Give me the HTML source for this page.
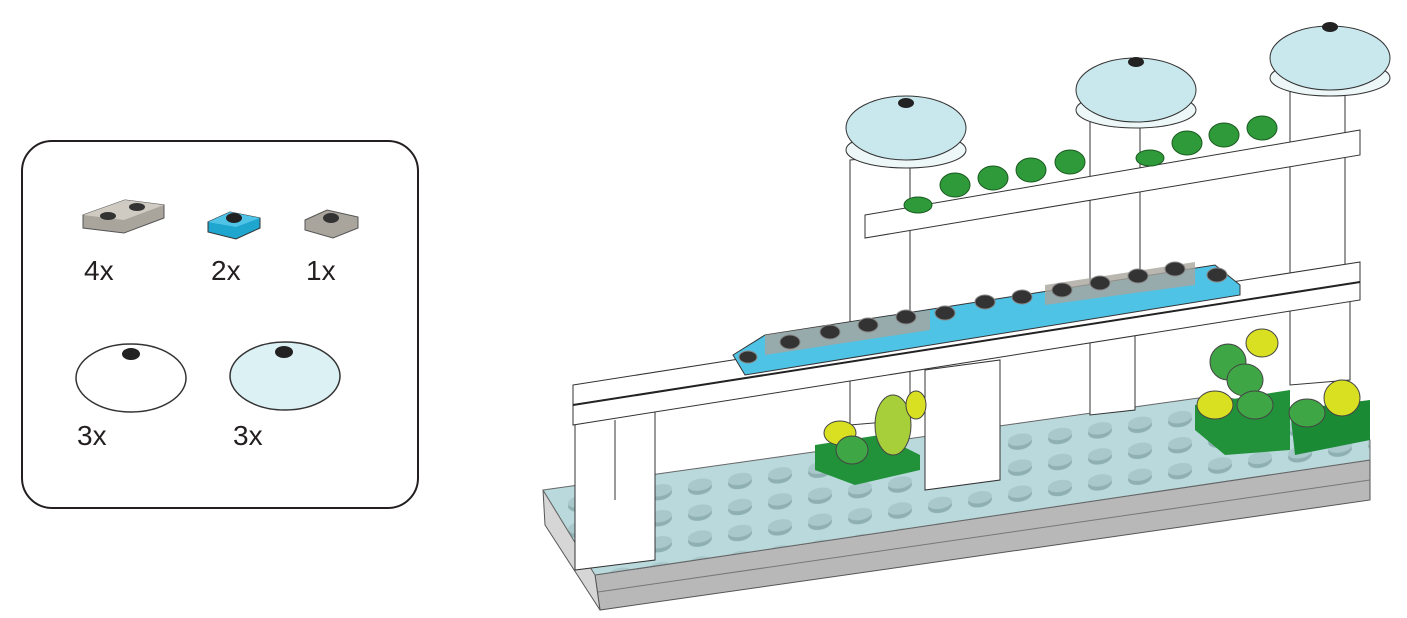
<!DOCTYPE html>
<html><head><meta charset="utf-8"><style>
html,body{margin:0;padding:0;background:#fff;}
body{width:1407px;height:618px;overflow:hidden;position:relative;font-family:"Liberation Sans",sans-serif;}
.t{position:absolute;font-size:28px;color:#231f20;}
</style></head><body>
<svg width="1407" height="618" style="position:absolute;left:0;top:0" xmlns="http://www.w3.org/2000/svg">
<defs>
<pattern id="studs" width="40" height="26" patternUnits="userSpaceOnUse" patternTransform="skewY(-8)">
<rect width="40" height="26" fill="#b9d9dc"/>
<ellipse cx="20" cy="14" rx="12" ry="7" fill="#8fb0b3"/>
<ellipse cx="20" cy="11" rx="12" ry="6" fill="#a9c8cb"/>
</pattern>
</defs>
<!-- parts box -->
<rect x="22" y="141" width="396" height="367" rx="30" fill="#fff" stroke="#231f20" stroke-width="2"/>
<!-- 1x2 grey -->
<polygon points="83,215 125,200 164,205 164,218 124,233 83,228" fill="#a9a59d" stroke="#555" stroke-width="1"/>
<polygon points="83,215 125,200 164,205 124,220" fill="#cfcbc3"/>
<ellipse cx="108" cy="216" rx="8" ry="4" fill="#333"/><ellipse cx="137" cy="207" rx="8" ry="4" fill="#333"/>
<!-- blue 1x1 -->
<polygon points="208,222 230,212 260,218 260,228 236,239 208,232" fill="#1ea6cf" stroke="#333" stroke-width="1"/>
<polygon points="208,222 230,212 260,218 236,227" fill="#4fc3e6"/>
<ellipse cx="234" cy="218" rx="8" ry="5" fill="#222"/>
<!-- grey 1x1 -->
<polygon points="305,220 327,210 358,217 358,228 333,238 305,230" fill="#a9a59d" stroke="#555" stroke-width="1"/>
<ellipse cx="331" cy="218" rx="8" ry="5" fill="#333"/>
<!-- domes -->
<ellipse cx="131" cy="378" rx="55" ry="34" fill="#fff" stroke="#333" stroke-width="1.5"/>
<ellipse cx="131" cy="354" rx="9" ry="6" fill="#222"/>
<ellipse cx="285" cy="376" rx="55" ry="34" fill="#dcf1f4" stroke="#333" stroke-width="1.5"/>
<ellipse cx="284" cy="352" rx="9" ry="6" fill="#222"/>

<!-- base grey side -->
<polygon points="595,575 1370,460 1370,500 600,610" fill="#b8b8b8" stroke="#555"/>
<line x1="598" y1="592" x2="1370" y2="480" stroke="#777"/>
<polygon points="543,490 595,575 600,610 545,525" fill="#d6d6d6" stroke="#555"/>
<!-- base top -->
<polygon points="543,490 1220,395 1370,440 1370,460 595,575" fill="url(#studs)" stroke="#666"/>
<!-- lower left column block -->
<polygon points="575,420 655,410 655,560 575,570" fill="#fff" stroke="#333"/>
<line x1="615" y1="420" x2="615" y2="500" stroke="#333"/>
<!-- middle lower columns -->
<polygon points="925,370 1000,360 1000,480 925,490" fill="#fff" stroke="#333"/>
<polygon points="1090,330 1135,325 1135,410 1090,415" fill="#fff" stroke="#333"/>
<polygon points="1290,300 1350,295 1350,380 1290,385" fill="#fff" stroke="#333"/>
<!-- tall columns -->
<polygon points="850,160 910,155 910,420 850,425" fill="#fff" stroke="#333"/>
<polygon points="1090,120 1140,115 1140,330 1090,335" fill="#fff" stroke="#333"/>
<polygon points="1290,85 1345,80 1345,300 1290,305" fill="#fff" stroke="#333"/>
<!-- upper beam -->
<polygon points="865,215 1360,130 1360,155 865,238" fill="#fff" stroke="#333"/>
<!-- lower beam -->
<polygon points="573,385 1360,262 1360,300 573,425" fill="#fff" stroke="#333"/>
<line x1="573" y1="405" x2="1360" y2="282" stroke="#222" stroke-width="2"/>
<!-- blue/grey plate row -->
<polygon points="733,355 765,335 1215,265 1240,285 1240,295 745,375" fill="#4fc3e6" stroke="#333"/>
<polygon points="765,335 930,310 930,330 765,355" fill="#a9a59d" opacity=".8"/>
<polygon points="1045,285 1195,262 1195,285 1045,305" fill="#a9a59d" opacity=".8"/>
<g fill="#333" stroke="#888">
<ellipse cx="748" cy="357" rx="9" ry="6"/><ellipse cx="790" cy="342" rx="10" ry="7"/><ellipse cx="830" cy="332" rx="10" ry="7"/><ellipse cx="868" cy="325" rx="10" ry="7"/><ellipse cx="906" cy="317" rx="10" ry="7"/><ellipse cx="945" cy="313" rx="10" ry="7"/><ellipse cx="985" cy="302" rx="10" ry="7"/><ellipse cx="1022" cy="297" rx="10" ry="7"/><ellipse cx="1062" cy="290" rx="10" ry="7"/><ellipse cx="1100" cy="283" rx="10" ry="7"/><ellipse cx="1138" cy="276" rx="10" ry="7"/><ellipse cx="1175" cy="269" rx="10" ry="7"/><ellipse cx="1217" cy="275" rx="10" ry="7"/>
</g>
<!-- green studs upper -->
<g fill="#2e9a3a" stroke="#1a5a20">
<ellipse cx="918" cy="205" rx="14" ry="8"/><ellipse cx="955" cy="185" rx="15" ry="12"/><ellipse cx="993" cy="178" rx="15" ry="12"/><ellipse cx="1031" cy="170" rx="15" ry="12"/><ellipse cx="1070" cy="162" rx="15" ry="12"/><ellipse cx="1150" cy="158" rx="14" ry="8"/><ellipse cx="1187" cy="143" rx="15" ry="12"/><ellipse cx="1224" cy="135" rx="15" ry="12"/><ellipse cx="1262" cy="128" rx="15" ry="12"/>
</g>
<!-- domes on top -->
<ellipse cx="906" cy="150" rx="60" ry="18" fill="#eef7f8" stroke="#333"/>
<ellipse cx="906" cy="128" rx="60" ry="32" fill="#c9e8ee" stroke="#333"/>
<ellipse cx="906" cy="103" rx="8" ry="5" fill="#222"/>
<ellipse cx="1136" cy="110" rx="60" ry="18" fill="#eef7f8" stroke="#333"/>
<ellipse cx="1136" cy="90" rx="60" ry="32" fill="#c9e8ee" stroke="#333"/>
<ellipse cx="1136" cy="62" rx="8" ry="5" fill="#222"/>
<ellipse cx="1330" cy="78" rx="60" ry="18" fill="#eef7f8" stroke="#333"/>
<ellipse cx="1330" cy="58" rx="60" ry="32" fill="#c9e8ee" stroke="#333"/>
<ellipse cx="1330" cy="27" rx="8" ry="5" fill="#222"/>
<!-- green bricks lower -->
<polygon points="815,445 880,435 920,455 920,470 855,485 815,470" fill="#22923a"/>
<polygon points="1195,405 1290,390 1290,450 1225,455 1195,430" fill="#22923a"/>
<polygon points="1290,410 1370,400 1370,440 1295,455" fill="#1b8a34"/>
<g stroke="#444">
<ellipse cx="840" cy="433" rx="16" ry="12" fill="#d9e021"/><ellipse cx="852" cy="450" rx="16" ry="14" fill="#3fa645"/>
<ellipse cx="893" cy="425" rx="18" ry="30" fill="#a7cf3a"/><ellipse cx="916" cy="405" rx="10" ry="14" fill="#d9e021"/>
<ellipse cx="1228" cy="362" rx="18" ry="18" fill="#3fa645"/><ellipse cx="1262" cy="343" rx="16" ry="14" fill="#d9e021"/>
<ellipse cx="1245" cy="380" rx="18" ry="16" fill="#3fa645"/><ellipse cx="1255" cy="405" rx="18" ry="14" fill="#3fa645"/>
<ellipse cx="1215" cy="405" rx="18" ry="14" fill="#d9e021"/>
<ellipse cx="1307" cy="413" rx="18" ry="14" fill="#3fa645"/><ellipse cx="1342" cy="398" rx="18" ry="18" fill="#d9e021"/>
</g>
</svg>
<div class="t" style="left:84px;top:255px">4x</div>
<div class="t" style="left:211px;top:255px">2x</div>
<div class="t" style="left:306px;top:255px">1x</div>
<div class="t" style="left:77px;top:420px">3x</div>
<div class="t" style="left:233px;top:420px">3x</div>
</body></html>
